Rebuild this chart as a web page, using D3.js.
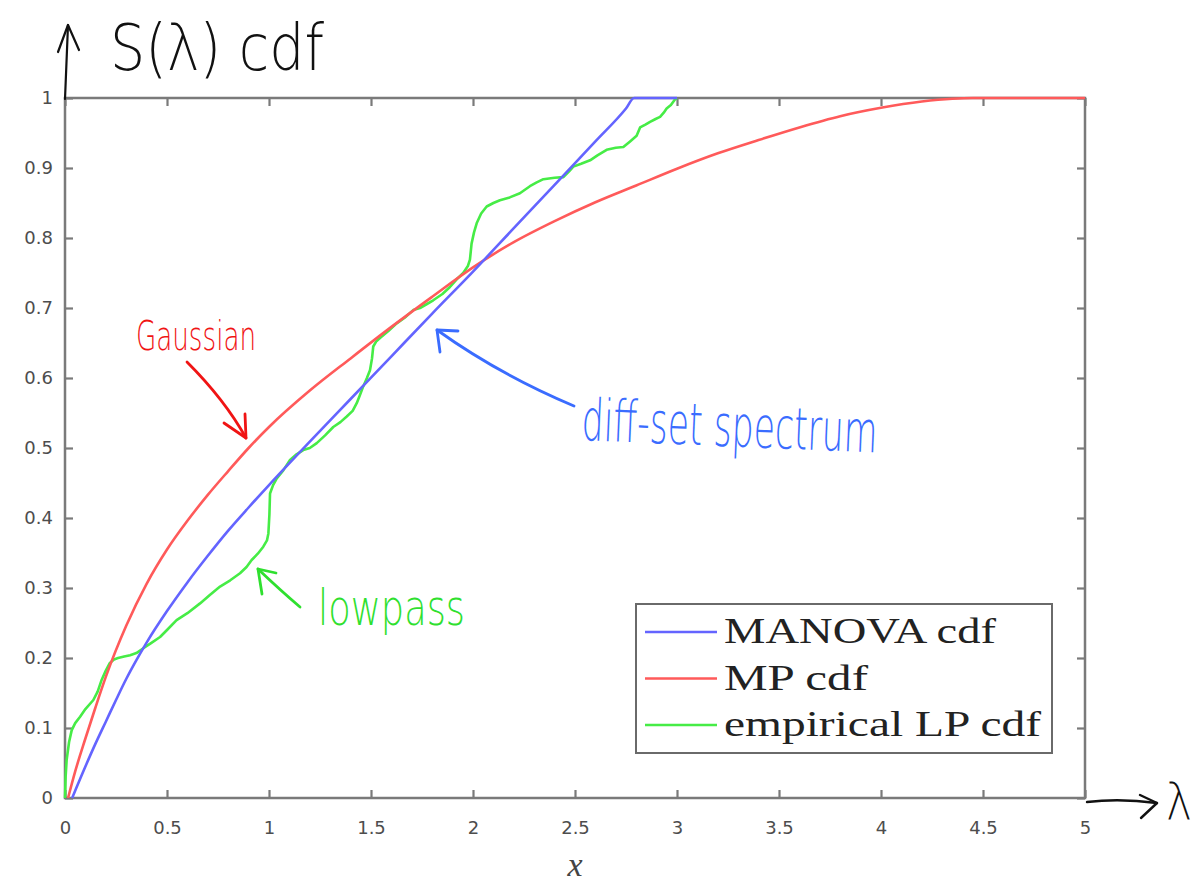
<!DOCTYPE html>
<html>
<head>
<meta charset="utf-8">
<script src="https://cdn.jsdelivr.net/npm/d3@7"></script>
<style>
  html, body { margin: 0; padding: 0; background: #fff; }
  svg { display: block; }
</style>
</head>
<body>
<svg id="chart" width="1202" height="885"></svg>
<script>
// Tick positions
const xTicks = [0, 0.5, 1, 1.5, 2, 2.5, 3, 3.5, 4, 4.5, 5];
const yTicks = [0, 0.1, 0.2, 0.3, 0.4, 0.5, 0.6, 0.7, 0.8, 0.9, 1];

// MANOVA cdf
const manovaX = [0.035, 0.1, 0.15, 0.2, 0.25, 0.3, 0.35, 0.4, 0.5, 0.6, 0.7, 0.8, 0.9, 1.0, 1.2, 1.4, 1.6, 1.8, 2.0, 2.2, 2.4, 2.6, 2.75, 2.79, 3.0];
const manovaY = [0, 0.045, 0.078, 0.109, 0.14, 0.17, 0.197, 0.222, 0.267, 0.308, 0.346, 0.382, 0.415, 0.447, 0.509, 0.57, 0.631, 0.692, 0.752, 0.814, 0.876, 0.938, 0.985, 1.0, 1.0];

// MP cdf
const mpX = [0.015, 0.05, 0.1, 0.15, 0.2, 0.3, 0.4, 0.5, 0.6, 0.7, 0.8, 0.9, 1.0, 1.2, 1.4, 1.6, 1.8, 2.0, 2.2, 2.4, 2.6, 2.8, 3.0, 3.2, 3.4, 3.6, 3.8, 4.0, 4.2, 4.35, 4.45, 5.0];
const mpY = [0, 0.038, 0.085, 0.13, 0.173, 0.246, 0.306, 0.355, 0.396, 0.433, 0.467, 0.5, 0.53, 0.582, 0.628, 0.673, 0.716, 0.758, 0.794, 0.824, 0.851, 0.875, 0.899, 0.921, 0.94, 0.958, 0.974, 0.986, 0.995, 0.999, 1.0, 1.0];

// empirical LP cdf
const lpX = [0.0, 0.003, 0.008, 0.02, 0.033, 0.05, 0.074, 0.1, 0.139, 0.16, 0.18, 0.2, 0.22, 0.24, 0.26, 0.29, 0.319, 0.35, 0.384, 0.42, 0.466, 0.5, 0.547, 0.6, 0.662, 0.71, 0.76, 0.81, 0.858, 0.89, 0.915, 0.945, 0.972, 0.99, 0.997, 1.002, 1.005, 1.02, 1.037, 1.07, 1.103, 1.135, 1.168, 1.2, 1.234, 1.275, 1.315, 1.35, 1.381, 1.41, 1.43, 1.445, 1.462, 1.48, 1.495, 1.505, 1.511, 1.525, 1.544, 1.585, 1.626, 1.665, 1.707, 1.74, 1.77, 1.805, 1.85, 1.887, 1.92, 1.952, 1.975, 1.985, 1.993, 2.005, 2.018, 2.04, 2.067, 2.1, 2.132, 2.18, 2.23, 2.279, 2.31, 2.345, 2.4, 2.443, 2.47, 2.492, 2.53, 2.574, 2.61, 2.655, 2.7, 2.737, 2.77, 2.802, 2.819, 2.845, 2.868, 2.895, 2.917, 2.935, 2.949, 2.97, 2.99, 3.0];
const lpY = [0, 0.03, 0.054, 0.08, 0.097, 0.107, 0.116, 0.127, 0.14, 0.152, 0.169, 0.182, 0.193, 0.198, 0.2, 0.202, 0.204, 0.207, 0.214, 0.221, 0.23, 0.24, 0.254, 0.264, 0.278, 0.29, 0.302, 0.311, 0.321, 0.33, 0.34, 0.349, 0.359, 0.368, 0.378, 0.405, 0.435, 0.447, 0.456, 0.468, 0.483, 0.491, 0.497, 0.5, 0.507, 0.518, 0.53, 0.537, 0.545, 0.553, 0.564, 0.575, 0.588, 0.6, 0.611, 0.628, 0.645, 0.652, 0.657, 0.667, 0.678, 0.686, 0.697, 0.7, 0.705, 0.711, 0.72, 0.73, 0.741, 0.75, 0.76, 0.769, 0.792, 0.808, 0.821, 0.835, 0.845, 0.85, 0.854, 0.858, 0.864, 0.874, 0.879, 0.884, 0.886, 0.887, 0.895, 0.902, 0.906, 0.911, 0.918, 0.926, 0.929, 0.93, 0.938, 0.946, 0.958, 0.962, 0.966, 0.97, 0.973, 0.979, 0.985, 0.99, 0.998, 1.0];

const legendLabels = ["MANOVA cdf", "MP cdf", "empirical LP cdf"];
const seriesColors = ["#6464ff", "#ff5a5a", "#46ec46"];

const svg = d3.select("#chart");

const x = d3.scaleLinear().domain([0, 5]).range([65, 1085]);
const y = d3.scaleLinear().domain([0, 1]).range([798, 98]);

const tickColor = "#7a7a7a";
const labelColor = "#4d4d4d";

// Axes with inward ticks on all four sides
const gBottom = svg.append("g").attr("transform", `translate(0,${y(0)})`)
  .call(d3.axisBottom(x).tickValues(xTicks).tickSizeInner(-8).tickSizeOuter(0).tickPadding(23)
    .tickFormat(d3.format("")));
const gTop = svg.append("g").attr("transform", `translate(0,${y(1)})`)
  .call(d3.axisTop(x).tickValues(xTicks).tickSizeInner(-8).tickSizeOuter(0).tickFormat(""));
const gLeft = svg.append("g").attr("transform", `translate(${x(0)},0)`)
  .call(d3.axisLeft(y).tickValues(yTicks).tickSizeInner(-8).tickSizeOuter(0).tickPadding(12)
    .tickFormat(d3.format("")));
const gRight = svg.append("g").attr("transform", `translate(${x(5)},0)`)
  .call(d3.axisRight(y).tickValues(yTicks).tickSizeInner(-8).tickSizeOuter(0).tickFormat(""));

[gBottom, gTop, gLeft, gRight].forEach(g => {
  g.select(".domain").remove();
  g.selectAll(".tick line").attr("stroke", tickColor).attr("stroke-width", 2.2);
  g.selectAll(".tick text")
    .attr("fill", labelColor)
    .style("font-family", "'DejaVu Sans', Verdana, sans-serif")
    .style("font-size", "18px");
});

// Plot box
svg.append("rect")
  .attr("x", x(0)).attr("y", y(1))
  .attr("width", x(5) - x(0)).attr("height", y(0) - y(1))
  .attr("fill", "none").attr("stroke", tickColor).attr("stroke-width", 2.5);

// x axis label
svg.append("text")
  .attr("x", (x(0) + x(5)) / 2).attr("y", 876)
  .attr("text-anchor", "middle")
  .attr("fill", "#444")
  .style("font-family", "'Liberation Serif', 'DejaVu Serif', serif")
  .style("font-style", "italic")
  .style("font-size", "34px")
  .text("x");

// Curves
const line = d3.line().x(d => x(d[0])).y(d => y(d[1]));
const series = [
  { xs: manovaX, ys: manovaY, curve: d3.curveMonotoneX },
  { xs: mpX, ys: mpY, curve: d3.curveMonotoneX },
  { xs: lpX, ys: lpY, curve: d3.curveLinear }
];
const drawOrder = [2, 1, 0];
drawOrder.forEach(i => {
  const s = series[i];
  const pts = s.xs.map((v, k) => [v, s.ys[k]]);
  svg.append("path")
    .attr("d", line.curve(s.curve)(pts))
    .attr("fill", "none")
    .attr("stroke", seriesColors[i])
    .attr("stroke-width", 2.6)
    .attr("stroke-linejoin", "round");
});

// Legend
const legend = svg.append("g");
legend.append("rect")
  .attr("x", 636).attr("y", 604).attr("width", 416).attr("height", 149)
  .attr("fill", "#fff").attr("stroke", "#6a6a6a").attr("stroke-width", 2);
const legendWidths = [272, 144, 317];
legendLabels.forEach((lab, i) => {
  const cy = 632 + i * 46.5;
  legend.append("line")
    .attr("x1", 645).attr("x2", 717).attr("y1", cy).attr("y2", cy)
    .attr("stroke", seriesColors[i]).attr("stroke-width", 2.6);
  legend.append("text")
    .attr("x", 724).attr("y", cy + 11)
    .attr("fill", "#222")
    .attr("textLength", legendWidths[i])
    .attr("lengthAdjust", "spacingAndGlyphs")
    .style("font-family", "'Liberation Serif', 'DejaVu Serif', serif")
    .style("font-size", "36px")
    .text(lab);
});

// Hand-drawn annotations
const hand = "'DejaVu Sans', 'Open Sans', sans-serif";
function note(txt, px, py, size, len, color, angle) {
  const t = svg.append("text")
    .attr("x", px).attr("y", py)
    .attr("fill", color)
    .attr("textLength", len)
    .attr("lengthAdjust", "spacingAndGlyphs")
    .style("font-family", hand)
    .style("font-weight", 300)
    .style("font-size", size + "px")
    .text(txt);
  if (angle) t.attr("transform", `rotate(${angle},${px},${py})`);
  return t;
}
function stroke(d, color, w) {
  svg.append("path").attr("d", d).attr("fill", "none")
    .attr("stroke", color).attr("stroke-width", w || 2.6)
    .attr("stroke-linecap", "round").attr("stroke-linejoin", "round");
}

// axis arrows
stroke("M65,99 L68,25", "#111", 2.2);
stroke("M58,52 L68,25 L79,50", "#111", 2.2);
stroke("M1087,802 Q1120,798 1157,803", "#111", 2.4);
stroke("M1140,795 L1157,803 L1141,818", "#111", 2.4);
note("S(λ) cdf", 110, 70, 64, 214, "#111");
note("λ", 1166, 820, 52, 26, "#111");

// Gaussian
note("Gaussian", 136, 350, 40, 120, "#f01414");
stroke("M187,362 Q225,400 246,438", "#f01414", 2.8);
stroke("M224,423 L246,438 L245,414", "#f01414", 2.8);

// diff-set spectrum
note("diff-set spectrum", 581, 440, 58, 296, "#3a6cff", 2.4);
stroke("M574,406 Q500,375 437,330", "#3a6cff", 2.8);
stroke("M440,352 L437,330 L458,331", "#3a6cff", 2.8);

// lowpass
note("lowpass", 318, 625, 50, 147, "#2fe02f");
stroke("M300,607 Q280,590 258,569", "#2fe02f", 2.8);
stroke("M262,594 L258,569 L276,573", "#2fe02f", 2.8);
</script>
</body>
</html>
